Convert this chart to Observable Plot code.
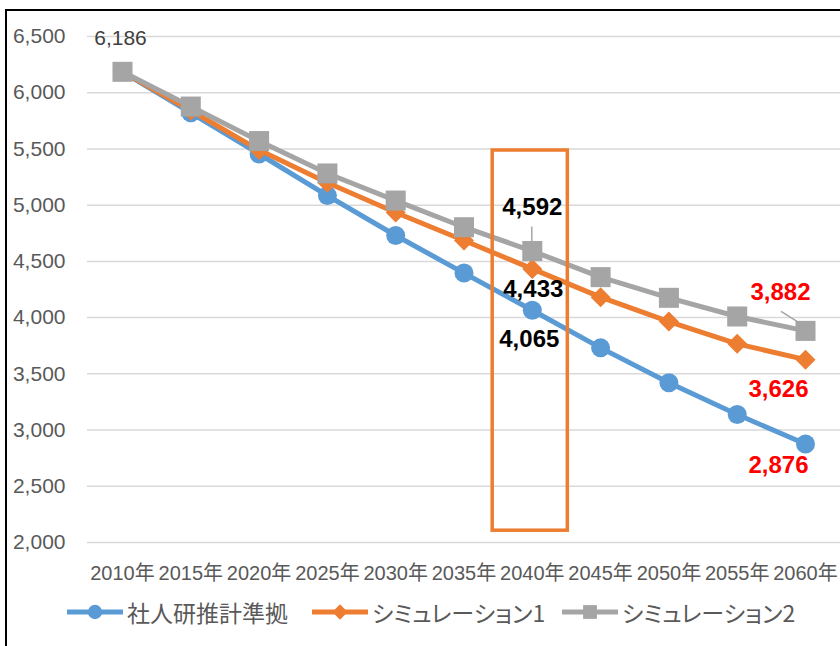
<!DOCTYPE html>
<html><head><meta charset="utf-8">
<script src="https://cdn.jsdelivr.net/npm/d3@7"></script>
<script src="https://cdn.jsdelivr.net/npm/@observablehq/plot@0.6"></script>
<style>
html,body{margin:0;padding:0;width:840px;height:646px;overflow:hidden;background:#fff;}
#chart{position:absolute;left:0;top:0;width:840px;}
#frame{position:absolute;left:5px;top:9px;width:900px;height:700px;border-left:2px solid #000;border-top:2px solid #000;z-index:5;pointer-events:none;background:transparent;}
#chart svg [aria-label^="x-axis"] text{font-size:20px;}
#chart svg [aria-label^="y-axis"] text{font-size:21px;}
#legend{position:absolute;left:0;top:597px;width:840px;height:30px;font-family:"Noto Sans CJK JP",sans-serif;font-size:23px;color:#595959;font-feature-settings:"palt" 1;}
.item{position:absolute;top:0;height:30px;display:flex;align-items:center;white-space:nowrap;}
.item svg{display:block;margin-right:4px;}
</style></head>
<body>
<div id="chart"></div>
<div id="legend"></div>
<div id="frame"></div>
<script>
const years = [2010, 2015, 2020, 2025, 2030, 2035, 2040, 2045, 2050, 2055, 2060];
const shajinken = [6186, 5822, 5455, 5085, 4730, 4396, 4065, 3731, 3420, 3138, 2876];
const sim1 = [6186, 5842, 5490, 5200, 4935, 4686, 4433, 4182, 3965, 3767, 3626];
const sim2 = [6186, 5877, 5570, 5282, 5041, 4804, 4592, 4360, 4176, 4010, 3882];
const seriesNames = ["社人研推計準拠", "シミュレーション1", "シミュレーション2"];
const yTicks = [2000, 2500, 3000, 3500, 4000, 4500, 5000, 5500, 6000, 6500];
const xTickSuffix = "年";
const highlightBox = [{x1: 2037.1, x2: 2042.6, y1: 2105, y2: 5486}];

const colors = ["#5B9BD5", "#ED7D31", "#A5A5A5"];
const symbols = [d3.symbolCircle, d3.symbolDiamond2, d3.symbolSquare];
const radii = [9.5, 9, 11.3];
const fmt = d3.format(",");
const toRows = vals => years.map((year, i) => ({year, value: vals[i]}));
const allSeries = [shajinken, sim1, sim2].map(toRows);
const pt = (arr, i) => [{year: years[i], value: arr[i]}];

const marks = [Plot.ruleY(yTicks, {stroke: "#D9D9D9", strokeWidth: 1.5})];
allSeries.forEach((rows, i) => {
  marks.push(Plot.line(rows, {x: "year", y: "value", stroke: colors[i], strokeWidth: 5, strokeLinejoin: "round"}));
  marks.push(Plot.dot(rows, {x: "year", y: "value", fill: colors[i], stroke: "none", r: radii[i], symbol: symbols[i]}));
});
marks.push(Plot.rect(highlightBox, {x1: "x1", x2: "x2", y1: "y1", y2: "y2", fill: "none", stroke: "#ED7D31", strokeWidth: 3.5}));

// leader lines
marks.push((index, scales) => {
  const x = scales.x, y = scales.y;
  const g = d3.create("svg:g").attr("stroke", "#A5A5A5").attr("stroke-width", 1.5).attr("fill", "none");
  g.append("line")
    .attr("x1", x(years[6])).attr("y1", y(sim2[6]) - 24)
    .attr("x2", x(years[6])).attr("y2", y(sim2[6]) - 5);
  g.append("line")
    .attr("x1", x(years[10]) - 24).attr("y1", y(sim2[10]) - 19)
    .attr("x2", x(years[10]) - 8).attr("y2", y(sim2[10]) - 9);
  return g.node();
});

const lf = "'Liberation Sans', Arial, sans-serif";
const txt = (data, dx, dy, fill, bold) => Plot.text(data, {
  x: "year", y: "value", text: d => fmt(d.value), dx, dy, fill,
  fontSize: bold ? 24 : 21, fontWeight: bold ? "bold" : "normal", fontFamily: lf
});
marks.push(txt(pt(sim2, 0), -2, -34, "#404040", false));
marks.push(txt(pt(sim2, 6), 0, -44, "#000000", true));
marks.push(txt(pt(sim1, 6), 1, 20, "#000000", true));
marks.push(txt(pt(shajinken, 6), -3, 29, "#000000", true));
marks.push(txt(pt(sim2, 10), -25, -39, "#FF0000", true));
marks.push(txt(pt(sim1, 10), -27, 30, "#FF0000", true));
marks.push(txt(pt(shajinken, 10), -27, 21, "#FF0000", true));

const chart = Plot.plot({
  width: 840,
  height: 590,
  marginLeft: 87,
  marginRight: 0,
  marginTop: 36,
  marginBottom: 48,
  style: {fontFamily: "'Liberation Sans', 'Noto Sans CJK JP', sans-serif", fontSize: "20px", color: "#595959", background: "transparent", overflow: "visible"},
  x: {domain: [2010, 2060], insetLeft: 35, insetRight: 35, ticks: years, tickFormat: d => `${d}${xTickSuffix}`, tickSize: 0, tickPadding: 23, label: null},
  y: {domain: [2000, 6500], ticks: yTicks, tickFormat: fmt, tickSize: 0, tickPadding: 22, label: null},
  marks
});
document.getElementById("chart").appendChild(chart);

// legend
const legend = d3.select("#legend");
const legendX = [67, 312, 562];
seriesNames.forEach((name, i) => {
  const item = legend.append("div").attr("class", "item").style("left", legendX[i] + "px");
  const s = item.append("svg").attr("width", 56).attr("height", 30);
  s.append("line").attr("x1", 0).attr("x2", 56).attr("y1", 15).attr("y2", 15)
    .attr("stroke", colors[i]).attr("stroke-width", 5);
  s.append("path").attr("transform", "translate(28,15)")
    .attr("d", d3.symbol(symbols[i], i === 0 ? 160 : (i === 1 ? 150 : 190))())
    .attr("fill", colors[i]);
  item.append("span").text(name);
});
</script>
</body></html>
